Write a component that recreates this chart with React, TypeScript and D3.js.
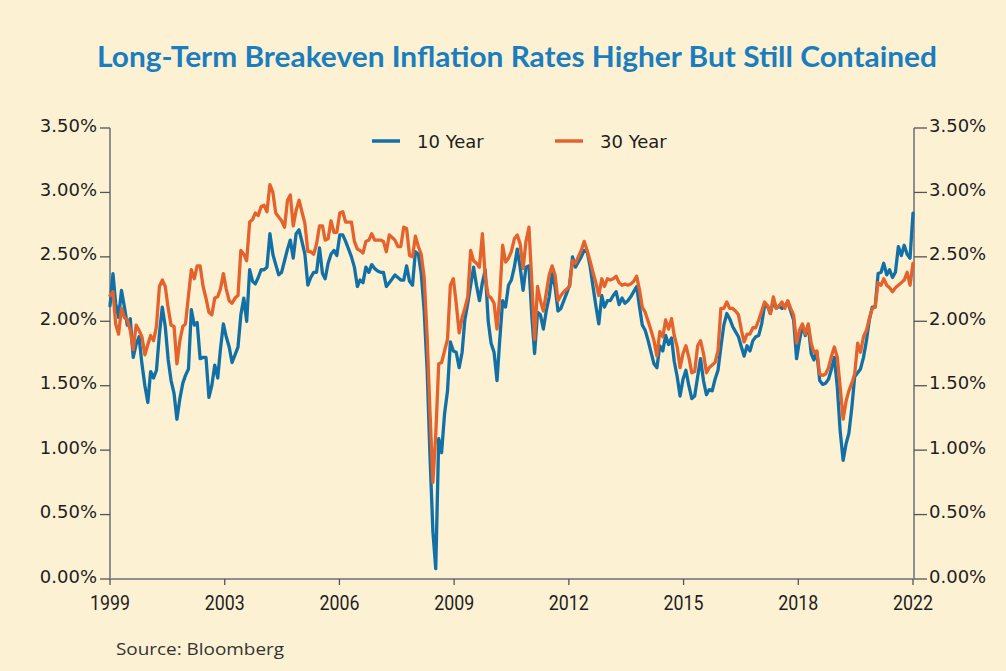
import React from "react";
import * as d3 from "d3";

const W = 1006;
const H = 671;

const title = "Long-Term Breakeven Inflation Rates Higher But Still Contained";
const sourceNote = "Source: Bloomberg";
const yearLabels = ["1999", "2003", "2006", "2009", "2012", "2015", "2018", "2022"];
const yTicks = [0, 0.5, 1, 1.5, 2, 2.5, 3, 3.5];
const seriesNames = ["10 Year", "30 Year"];
const seriesColors = ["#1170a6", "#e4622b"];

// monthly observations, Jan 1999 .. Jan 2022 (12 per row)
const tenYear = [
  2.12, 2.37, 2.14, 2.03, 2.24, 2.11, 1.97, 2.02, 1.72, 1.82, 1.88, 1.67,
  1.50, 1.37, 1.61, 1.56, 1.62, 1.90, 2.11, 1.96, 1.70, 1.54, 1.44, 1.24,
  1.40, 1.52, 1.58, 1.63, 2.09, 1.97, 1.99, 1.71, 1.72, 1.72, 1.41, 1.50,
  1.66, 1.56, 1.78, 1.98, 1.88, 1.80, 1.68, 1.74, 1.80, 2.05, 2.18, 2.00,
  2.40, 2.31, 2.29, 2.34, 2.40, 2.40, 2.42, 2.68, 2.52, 2.44, 2.36, 2.38,
  2.47, 2.56, 2.63, 2.49, 2.68, 2.71, 2.62, 2.52, 2.28, 2.34, 2.38, 2.38,
  2.57, 2.37, 2.33, 2.45, 2.52, 2.55, 2.51, 2.67, 2.67, 2.62, 2.56, 2.50,
  2.42, 2.27, 2.32, 2.30, 2.42, 2.38, 2.44, 2.41, 2.39, 2.38, 2.38, 2.27,
  2.30, 2.33, 2.36, 2.34, 2.32, 2.32, 2.43, 2.31, 2.28, 2.54, 2.52, 2.37,
  2.08, 1.62, 0.97, 0.37, 0.08, 1.09, 0.98, 1.28, 1.46, 1.84, 1.77, 1.76,
  1.64, 1.76, 2.01, 2.14, 2.28, 2.42, 2.28, 2.16, 2.30, 2.40, 2.00, 1.83,
  1.76, 1.54, 1.85, 2.16, 2.11, 2.28, 2.32, 2.42, 2.56, 2.42, 2.24, 2.42,
  2.43, 2.03, 1.75, 2.07, 2.05, 1.94, 2.08, 2.19, 2.37, 2.27, 2.08, 2.10,
  2.16, 2.22, 2.28, 2.50, 2.42, 2.46, 2.50, 2.55, 2.54, 2.43, 2.27, 2.12,
  1.98, 2.20, 2.11, 2.16, 2.16, 2.20, 2.23, 2.13, 2.18, 2.14, 2.16, 2.19,
  2.23, 2.27, 2.12, 1.97, 1.93, 1.85, 1.76, 1.67, 1.64, 1.81, 1.77, 1.89,
  1.82, 1.87, 1.69, 1.57, 1.42, 1.55, 1.62, 1.50, 1.40, 1.42, 1.57, 1.71,
  1.54, 1.43, 1.47, 1.46, 1.55, 1.62, 1.80, 1.97, 2.06, 2.02, 1.96, 1.92,
  1.88, 1.80, 1.73, 1.81, 1.77, 1.85, 1.88, 1.89, 1.98, 2.12, 2.12, 2.06,
  2.16, 2.10, 2.12, 2.10, 2.12, 2.15, 2.08, 2.01, 1.71, 1.85, 1.97, 1.89,
  1.97, 1.75, 1.70, 1.76, 1.54, 1.51, 1.52, 1.55, 1.63, 1.72, 1.49, 1.15,
  0.92, 1.05, 1.13, 1.33, 1.57, 1.60, 1.63, 1.72, 1.85, 2.01, 2.11, 2.11,
  2.37, 2.38, 2.45, 2.36, 2.40, 2.34, 2.38, 2.58, 2.51, 2.59, 2.52, 2.49,
  2.84,
];

const thirtyYear = [
  2.20, 2.23, 1.98, 1.90, 2.10, 2.03, 2.01, 1.93, 1.78, 1.97, 1.93, 1.88,
  1.74, 1.82, 1.89, 1.85, 1.96, 2.27, 2.32, 2.27, 2.10, 1.97, 1.96, 1.67,
  1.85, 1.96, 1.98, 2.20, 2.40, 2.33, 2.43, 2.43, 2.27, 2.18, 2.07, 2.05,
  2.18, 2.19, 2.25, 2.37, 2.25, 2.16, 2.14, 2.18, 2.20, 2.55, 2.52, 2.47,
  2.77, 2.79, 2.84, 2.82, 2.89, 2.90, 2.85, 3.06, 3.00, 2.84, 2.81, 2.78,
  2.73, 2.94, 2.98, 2.74, 2.86, 2.94, 2.85, 2.76, 2.54, 2.54, 2.52, 2.60,
  2.74, 2.74, 2.63, 2.64, 2.78, 2.69, 2.69, 2.84, 2.85, 2.77, 2.77, 2.77,
  2.62, 2.56, 2.55, 2.53, 2.62, 2.63, 2.68, 2.63, 2.63, 2.63, 2.62, 2.54,
  2.67, 2.65, 2.63, 2.58, 2.58, 2.73, 2.72, 2.51, 2.50, 2.66, 2.58, 2.52,
  2.34, 1.88, 1.31, 0.75, 1.12, 1.67, 1.68, 1.77, 1.86, 2.28, 2.33, 2.14,
  1.91, 2.03, 2.10, 2.19, 2.55, 2.47, 2.45, 2.42, 2.68, 2.34, 2.20, 2.18,
  2.14, 1.94, 2.19, 2.59, 2.46, 2.49, 2.54, 2.64, 2.67, 2.60, 2.41, 2.62,
  2.73, 2.29, 1.86, 2.27, 2.16, 2.08, 2.22, 2.36, 2.43, 2.36, 2.16, 2.20,
  2.23, 2.25, 2.27, 2.47, 2.45, 2.50, 2.55, 2.62, 2.55, 2.47, 2.38, 2.30,
  2.20, 2.33, 2.27, 2.33, 2.32, 2.33, 2.35, 2.30, 2.28, 2.29, 2.28, 2.29,
  2.31, 2.35, 2.25, 2.11, 2.07, 2.00, 1.93, 1.85, 1.73, 1.92, 1.88, 2.01,
  1.94, 2.02, 1.89, 1.80, 1.64, 1.75, 1.81, 1.72, 1.60, 1.61, 1.81, 1.85,
  1.75, 1.60, 1.64, 1.66, 1.68, 1.77, 2.10, 2.10, 2.15, 2.10, 2.10, 2.08,
  2.05, 1.93, 1.84, 1.90, 1.90, 1.95, 1.95, 2.01, 2.08, 2.15, 2.12, 2.06,
  2.19, 2.10, 2.12, 2.15, 2.10, 2.16, 2.10, 2.05, 1.83, 1.93, 1.98, 1.90,
  1.98, 1.83, 1.76, 1.77, 1.59, 1.58, 1.59, 1.64, 1.73, 1.80, 1.72, 1.49,
  1.24, 1.38, 1.46, 1.52, 1.59, 1.83, 1.76, 1.88, 1.93, 2.02, 2.10, 2.11,
  2.30, 2.28, 2.33, 2.28, 2.26, 2.23, 2.26, 2.28, 2.30, 2.32, 2.38, 2.28,
  2.45,
];

const dates = d3.timeMonth.range(new Date(1999, 0, 1), new Date(2022, 1, 1));

const BG = "#fdf1d4";
const AXIS = "#8f8f8f";
const TEXT = "#1e1e1e";

export default function App() {
  const left = 110;
  const right = 913;
  const top = 128;
  const bottom = 579;

  const x = d3.scaleTime().domain([dates[0], dates[dates.length - 1]]).range([left, right]);
  const y = d3.scaleLinear().domain([0, 3.5]).range([bottom, top]);
  const xLab = d3.scalePoint<string>().domain(yearLabels).range([left, right]);
  const fmt = (v: number) => d3.format(".2f")(v) + "%";

  const line = d3
    .line<number>()
    .x((_, i) => x(dates[i]))
    .y((d) => y(d));

  const series = [tenYear, thirtyYear];
  const legendX = [372, 555];
  const axisFont = "'DejaVu Sans', sans-serif";

  return (
    <svg
      width={W}
      height={H}
      viewBox={`0 0 ${W} ${H}`}
      style={{ position: "absolute", left: 0, top: 0, display: "block" }}
    >
      <rect x={0} y={0} width={W} height={H} fill={BG} />
      <text
        x={517}
        y={67}
        textAnchor="middle"
        fontFamily="Lato, 'Open Sans', sans-serif"
        fontWeight={700}
        fontSize={29}
        fill="#1a7dbd"
        textLength={840}
        lengthAdjust="spacingAndGlyphs"
      >
        {title}
      </text>

      {/* axes */}
      <line x1={left} x2={left} y1={top} y2={bottom} stroke={AXIS} strokeWidth={2} />
      <line x1={914} x2={914} y1={top} y2={bottom} stroke={AXIS} strokeWidth={2} />
      <line x1={left} x2={914} y1={bottom} y2={bottom} stroke={AXIS} strokeWidth={2} />

      {yTicks.map((t) => (
        <g key={"l" + t}>
          <line x1={100} x2={left} y1={y(t)} y2={y(t)} stroke="#555" strokeWidth={1.3} />
          <text
            x={97}
            y={y(t) - 3}
            textAnchor="end"
            dominantBaseline="central"
            fontFamily={axisFont}
            fontSize={18}
            fill={TEXT}
          >
            {fmt(t)}
          </text>
          <line x1={914} x2={927} y1={y(t)} y2={y(t)} stroke="#555" strokeWidth={1.3} />
          <text
            x={929}
            y={y(t) - 3}
            textAnchor="start"
            dominantBaseline="central"
            fontFamily={axisFont}
            fontSize={18}
            fill={TEXT}
          >
            {fmt(t)}
          </text>
        </g>
      ))}

      {yearLabels.map((lab) => (
        <g key={lab}>
          <line
            x1={xLab(lab)!}
            x2={xLab(lab)!}
            y1={bottom}
            y2={bottom + 6}
            stroke="#555"
            strokeWidth={1.3}
          />
          <text
            x={xLab(lab)!}
            y={603}
            textAnchor="middle"
            dominantBaseline="central"
            fontFamily="Roboto, sans-serif"
            fontSize={21}
            fill={TEXT}
            textLength={40}
            lengthAdjust="spacingAndGlyphs"
          >
            {lab}
          </text>
        </g>
      ))}

      {/* series */}
      {series.map((s, k) => (
        <path
          key={seriesNames[k]}
          d={line(s) || ""}
          fill="none"
          stroke={seriesColors[k]}
          strokeWidth={3.3}
          strokeLinejoin="round"
          strokeLinecap="round"
        />
      ))}

      {/* legend */}
      {seriesNames.map((n, k) => (
        <g key={"lg" + n}>
          <line
            x1={legendX[k]}
            x2={legendX[k] + 28}
            y1={141}
            y2={141}
            stroke={seriesColors[k]}
            strokeWidth={3.5}
          />
          <text
            x={legendX[k] + 45}
            y={141}
            dominantBaseline="central"
            fontFamily={axisFont}
            fontSize={18}
            fill={TEXT}
          >
            {n}
          </text>
        </g>
      ))}

      <text
        x={116}
        y={648}
        dominantBaseline="central"
        fontFamily="'Open Sans', sans-serif"
        fontSize={17}
        fill="#333"
        textLength={168}
        lengthAdjust="spacingAndGlyphs"
      >
        {sourceNote}
      </text>
    </svg>
  );
}
